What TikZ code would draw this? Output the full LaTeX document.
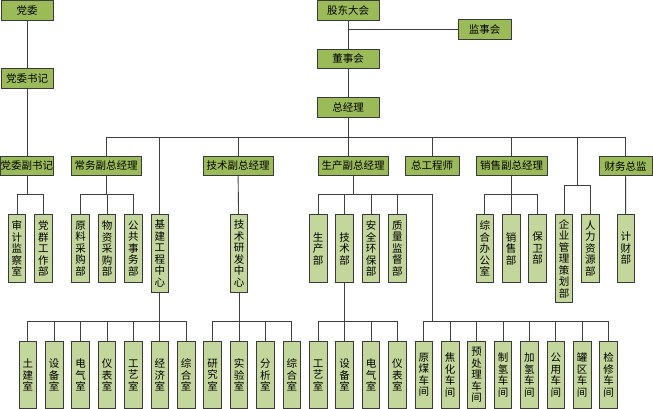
\documentclass[tikz,border=0pt]{standalone}
\usepackage{fontspec}
\newfontfamily\cjk{Noto Sans CJK SC}
\definecolor{topg}{HTML}{9BBB59}
\definecolor{lowg}{HTML}{C3D69B}
\definecolor{bord}{HTML}{3A3A3A}
\definecolor{wirec}{HTML}{3F3F3F}
\begin{document}
\begin{tikzpicture}[x=1pt,y=-1pt,
  hbox/.style={draw=bord, fill=topg, line width=1pt, inner sep=0pt, minimum height=19.5pt, font=\cjk\fontsize{10.5}{12}\selectfont},
  vbox/.style={draw=bord, fill=lowg, line width=1pt, inner sep=0pt, minimum width=17.6pt, anchor=north, align=center, font=\cjk\fontsize{10.5}{11.5}\selectfont},
  wire/.style={draw=wirec, line width=0.9pt}]
\useasboundingbox (0,0) rectangle (653,409);
\coordinate (yA) at (0,137);
\coordinate (yB) at (0,194);
\coordinate (yC) at (0,321);
\coordinate (yD) at (0,185);
% top level
\node[hbox, minimum width=52pt] (dw) at (27,10.5) {党委};
\node[hbox, minimum width=52pt] (dwsj) at (27,78.5) {党委书记};
\node[hbox, minimum width=62pt] (gddh) at (348,10.5) {股东大会};
\node[hbox, minimum width=53pt] (jsh) at (484.5,29.5) {监事会};
\node[hbox, minimum width=62pt] (dsh) at (348,59) {董事会};
\node[hbox, minimum width=62pt] (zjl) at (348,107.5) {总经理};
% second level
\node[hbox, minimum width=52pt] (dwfsj) at (27,166) {党委副书记};
\node[hbox, minimum width=70pt] (cw) at (106,166) {常务副总经理};
\node[hbox, minimum width=70pt] (js) at (238,166) {技术副总经理};
\node[hbox, minimum width=70pt] (sc) at (353,166) {生产副总经理};
\node[hbox, minimum width=54pt] (zgcs) at (432,166) {总工程师};
\node[hbox, minimum width=71pt] (xs) at (511.5,166) {销售副总经理};
\node[hbox, minimum width=53pt] (cwzj) at (625.5,166) {财务总监};
% third level
\node[vbox, minimum height=68pt] (sjjcs) at (17,214) {审\\计\\监\\察\\室};
\node[vbox, minimum height=68pt] (dqgzb) at (43.4,214) {党\\群\\工\\作\\部};
\node[vbox, minimum height=68pt] (ylcgb) at (80.6,214) {原\\料\\采\\购\\部};
\node[vbox, minimum height=68pt] (wzcgb) at (107,214) {物\\资\\采\\购\\部};
\node[vbox, minimum height=68pt] (ggswb) at (133.4,214) {公\\共\\事\\务\\部};
\node[vbox, minimum height=78pt] (jjgc) at (159.8,214) {基\\建\\工\\程\\中\\心};
\node[vbox, minimum height=78pt] (jsyf) at (239,214) {技\\术\\研\\发\\中\\心};
\node[vbox, minimum height=68pt] (scb) at (318.2,214) {生\\产\\部};
\node[vbox, minimum height=68pt] (jsb) at (344.6,214) {技\\术\\部};
\node[vbox, minimum height=68pt] (aqhb) at (371,214) {安\\全\\环\\保\\部};
\node[vbox, minimum height=68pt] (zljd) at (397.4,214) {质\\量\\监\\督\\部};
\node[vbox, minimum height=68pt] (zhbgs) at (484.8,214) {综\\合\\办\\公\\室};
\node[vbox, minimum height=68pt] (xsb) at (511.2,214) {销\\售\\部};
\node[vbox, minimum height=68pt] (bwb) at (537.6,214) {保\\卫\\部};
\node[vbox, minimum height=88pt] (qygl) at (564,214) {企\\业\\管\\理\\策\\划\\部};
\node[vbox, minimum height=68pt] (rlzy) at (590.4,214) {人\\力\\资\\源\\部};
\node[vbox, minimum height=68pt] (jcb) at (625.8,214) {计\\财\\部};
% bottom level
\foreach \t [count=\i from 0] in {{土\\建\\室},{设\\备\\室},{电\\气\\室},{仪\\表\\室},{工\\艺\\室},{经\\济\\室},{综\\合\\室},{研\\究\\室},{实\\验\\室},{分\\析\\室},{综\\合\\室},{工\\艺\\室},{设\\备\\室},{电\\气\\室},{仪\\表\\室},{原\\煤\\车\\间},{焦\\化\\车\\间},{预\\处\\理\\车\\间},{制\\氢\\车\\间},{加\\氢\\车\\间},{公\\用\\车\\间},{罐\\区\\车\\间},{检\\修\\车\\间}}
  \node[vbox, minimum height=67pt] (b\i) at ({27.8+26.4*\i},341) {\t};
% connectors top
\draw[wire] (dw) -- (dwsj);
\draw[wire] (dwsj) -- (dwfsj);
\draw[wire] (gddh) -- (dsh);
\coordinate (jshj) at (348,29.5);
\draw[wire] (jshj) -- (jsh.west);
\draw[wire] (dsh) -- (zjl);
\foreach \c in {cw,js,zgcs,xs,cwzj}
  \draw[wire] (zjl.south) |- (\c.north |- yA) -- (\c.north);
\draw[wire] (zjl.south) |- (jjgc.north |- yA) -- (jjgc.north);
\draw[wire] (zjl.south) -- (zjl.south |- sc.north);
\coordinate (hr) at (577.5,137);
\draw[wire] (zjl.south) |- (hr);
\foreach \c in {qygl,rlzy}
  \draw[wire] (hr) |- (\c.north |- yD) -- (\c.north);
% second -> third
\foreach \c in {sjjcs,dqgzb}
  \draw[wire] (dwfsj.south) |- (\c.north |- yB) -- (\c.north);
\foreach \c in {ylcgb,wzcgb,ggswb}
  \draw[wire] (cw.south) |- (\c.north |- yB) -- (\c.north);
\draw[wire] (js) -- (jsyf);
\foreach \c in {scb,jsb,aqhb,zljd}
  \draw[wire] (sc.south) |- (\c.north |- yB) -- (\c.north);
\coordinate (cjj) at (432,194);
\draw[wire] (sc.south) |- (cjj);
\foreach \c in {zhbgs,xsb,bwb}
  \draw[wire] (xs.south) |- (\c.north |- yB) -- (\c.north);
\draw[wire] (cwzj) -- (jcb);
% third -> bottom
\foreach \i in {0,...,6}
  \draw[wire] (jjgc.south) |- (b\i.north |- yC) -- (b\i.north);
\foreach \i in {7,...,10}
  \draw[wire] (jsyf.south) |- (b\i.north |- yC) -- (b\i.north);
\foreach \i in {11,...,14}
  \draw[wire] (jsb.south) |- (b\i.north |- yC) -- (b\i.north);
\foreach \i in {15,...,22}
  \draw[wire] (cjj) |- (b\i.north |- yC) -- (b\i.north);
\end{tikzpicture}
\end{document}
